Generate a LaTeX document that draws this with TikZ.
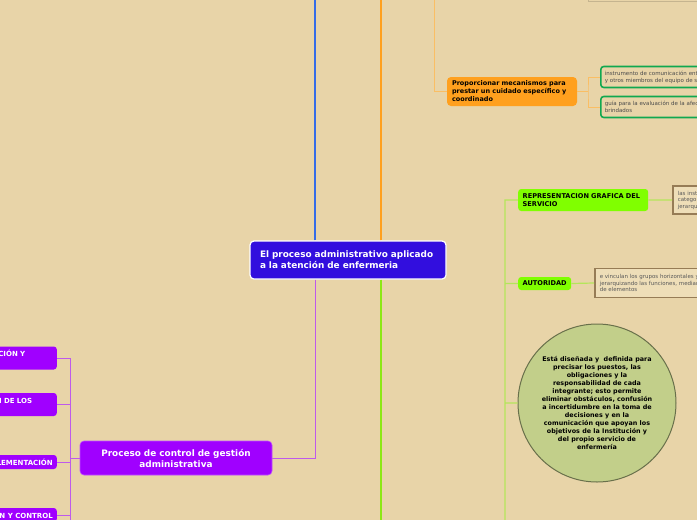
\documentclass[tikz,border=0pt]{standalone}
\usepackage{fontspec}
\setmainfont{DejaVu Sans}
\usetikzlibrary{positioning}
\definecolor{bgcol}{RGB}{232,212,168}
\definecolor{rootcol}{RGB}{50,14,222}
\definecolor{bluecol}{RGB}{52,108,232}
\definecolor{orangecol}{RGB}{255,160,30}
\definecolor{orangelight}{RGB}{250,190,100}
\definecolor{purplecol}{RGB}{160,0,255}
\definecolor{purpleline}{RGB}{190,90,235}
\definecolor{greencol}{RGB}{140,232,20}
\definecolor{greenlight}{RGB}{180,230,90}
\definecolor{limecol}{RGB}{128,255,0}
\definecolor{notegreen}{RGB}{16,168,80}
\definecolor{tanfill}{RGB}{238,222,184}
\definecolor{tandraw}{RGB}{150,124,86}
\definecolor{circfill}{RGB}{194,207,138}
\definecolor{circdraw}{RGB}{105,112,75}
\begin{document}
\begin{tikzpicture}[x=1pt,y=-1pt,
    root/.style={fill=rootcol,draw=white,line width=1.2pt,rounded corners=4pt,text=white,
      font=\bfseries\fontsize{8.9}{11}\selectfont,text width=176pt,align=left,
      inner xsep=10pt,minimum height=38pt},
    topic/.style={fill=purplecol,draw=purplecol!70!white,line width=0.6pt,rounded corners=4pt,text=white,
      font=\bfseries\fontsize{8.9}{11}\selectfont,text width=172pt,align=center,
      inner xsep=10pt,minimum height=34pt},
    stage/.style={fill=purplecol,rounded corners=3pt,text=white,anchor=east,
      font=\bfseries\fontsize{7}{9}\selectfont,align=left,inner xsep=4pt,inner ysep=2pt,minimum height=14pt},
    care/.style={fill=orangecol,rounded corners=4pt,text=black,
      font=\bfseries\fontsize{6.5}{8}\selectfont,text width=120pt,align=left,
      inner xsep=5pt,minimum height=29pt},
    lime/.style={fill=limecol,rounded corners=3pt,text=black,anchor=west,
      font=\bfseries\fontsize{6.6}{8}\selectfont,align=left,inner xsep=4.5pt,inner ysep=2pt,minimum height=13pt},
    greennote/.style={draw=notegreen,line width=1.6pt,rounded corners=3pt,fill=bgcol,anchor=west,
      text=black!70,font=\fontsize{5.5}{7}\selectfont,align=left,inner xsep=4pt,minimum height=21pt},
    tannote/.style={draw=tandraw,line width=1.6pt,fill=tanfill,anchor=west,
      text=black!65,font=\fontsize{5.5}{6.5}\selectfont,align=left,inner xsep=5pt},
    thick trunk/.style={line width=2.4pt},
    thin link/.style={line width=0.8pt}]

\useasboundingbox (0,0) rectangle (697,520);
\fill[bgcol] (0,0) rectangle (697,520);
\clip (0,0) rectangle (697,520);

% centre of the map
\node[root] (root) at (348,260) {El proceso administrativo aplicado\\a la atención de enfermeria};

% purple branch
\node[topic] (control) at (176,458) {Proceso de control de gestión\\administrativa};
\node[stage,text width=120pt,minimum height=23pt] (s1) at (57,358) {FASE DE PLANEACIÓN Y\\DIRECCIÓN};
\node[stage,text width=117pt,minimum height=23pt] (s2) at (57,404.5) {DETERMINACIÓN DE LOS\\ESTÁNDARES};
\node[stage] (s3) at (57,462) {IMPLEMENTACIÓN};
\node[stage] (s4) at (57,515) {EVALUACIÓN Y CONTROL};

% orange branch
\node[draw=bgcol!85!black,fill=bgcol,minimum width=150pt,minimum height=30pt,anchor=south west] (topnote) at (588,1) {};
\node[care] (care) at (512,91.5) {Proporcionar mecanismos para\\prestar un cuidado específico y\\coordinado};
\node[greennote,text width=150pt] (na) at (600,77) {instrumento de comunicación entre enfermería\\y otros miembros del equipo de salud};
\node[greennote,text width=150pt] (nb) at (600,107) {guía para la evaluación de la afectación\\brindados};

% green branch
\node[lime,text width=121pt,minimum height=22pt] (rep) at (518,200) {REPRESENTACION GRAFICA DEL\\SERVICIO};
\node[lime] (aut) at (518,283.5) {AUTORIDAD};
\node[tannote,minimum height=28pt] (t1) at (672,200) {las instancias\\categorías\\jerarquías};
\node[tannote,minimum height=29pt] (t2) at (594,283) {e vinculan los grupos horizontales y verticales\\jerarquizando las funciones, mediante la\\de elementos};
\node[circle,draw=circdraw,line width=1pt,fill=circfill,minimum size=158pt,inner sep=0pt,
      font=\bfseries\fontsize{6.4}{8}\selectfont,align=center] (org) at (597,403)
  {Está diseñada y\ \ definida para\\precisar los puestos, las\\obligaciones y la\\responsabilidad de cada\\integrante; esto permite\\eliminar obstáculos, confusión\\a incertidumbre en la toma de\\decisiones y en la\\comunicación que apoyan los\\objetivos de la Institución y\\del propio servicio de\\enfermería};

% free ends of the connectors
\coordinate (blueend) at (315,-5);
\coordinate (orangeend) at (381,-5);
\coordinate (greenend) at (381,530);
\coordinate (pv) at (315,458);
\coordinate (lt) at (70,458);
\coordinate (ltend) at (70,530);
\coordinate (ob) at (434,-5);
\coordinate (cj) at (588,91.5);
\coordinate (gb) at (505,530);

\draw[thick trunk,bluecol] (root.north -| blueend) -- (blueend);
\draw[thick trunk,orangecol] (root.north -| orangeend) -- (orangeend);
\draw[thick trunk,greencol] (root.south -| greenend) -- (greenend);
\draw[line width=1pt,purpleline] (root.south -| pv) -- (pv) -- (control.east);

\draw[thin link,purpleline] (control.west) -- (lt)
      (s1.east) -| (ltend)
      (s2.east) -- (s2.east -| lt)
      (s3.east) -- (s3.east -| lt)
      (s4.east) -- (s4.east -| lt);

\draw[thin link,orangelight] (ob) |- (care.west)
      (care.east) -- (cj)
      (na.west) -| (cj) |- (nb.west);

\draw[line width=1.2pt,greenlight] (rep.west) -| (gb)
      (aut.west) -- (aut.west -| gb)
      (org.west) -- (org.west -| gb)
      (rep.east) -- (t1.west)
      (aut.east) -- (t2.west);
\end{tikzpicture}
\end{document}
